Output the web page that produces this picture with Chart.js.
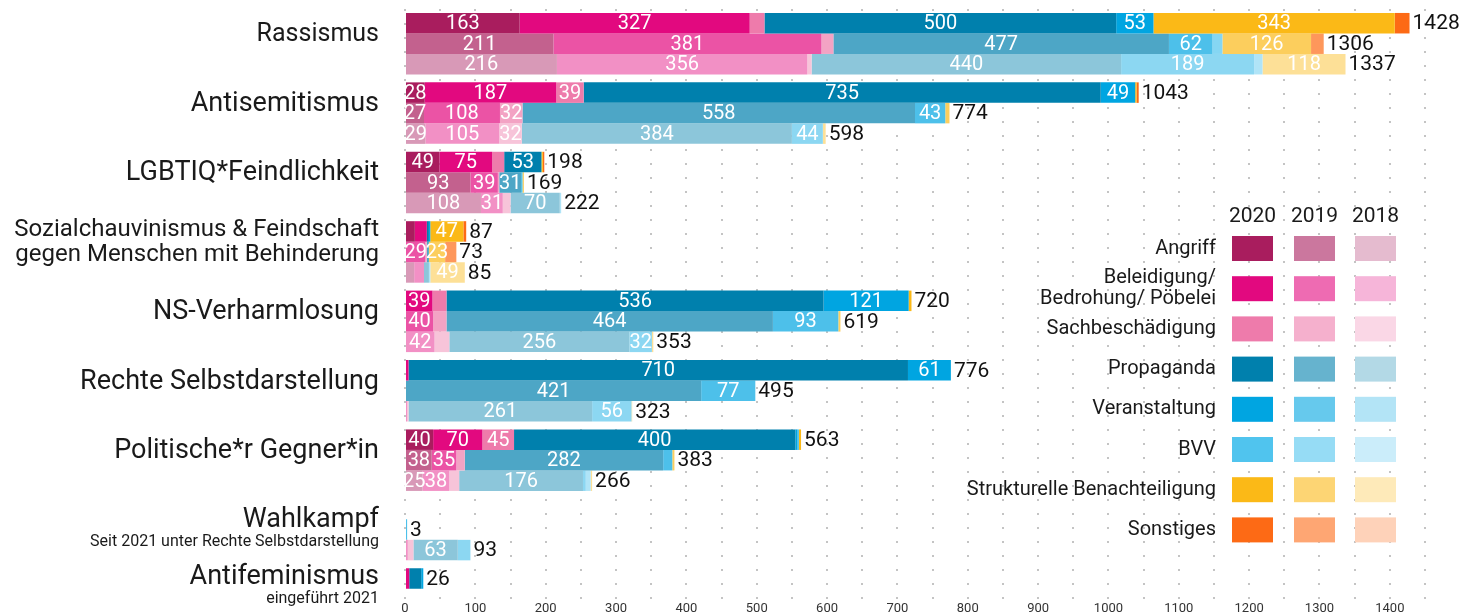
<!DOCTYPE html>
<html lang="de">
<head>
    <meta charset="UTF-8">
    <title>Vorfälle nach Motiv und Art</title>
    <script src="https://cdn.jsdelivr.net/npm/chart.js"></script>
    <style>
        html, body { margin: 0; padding: 0; background: #fff; overflow: hidden; }
        #wrap { width: 1459px; height: 615px; }
    </style>
</head>
<body>
    <div id="wrap"><canvas id="chart" width="1459" height="615"></canvas></div>

    <script>
        const FONT = "Roboto, 'Noto Sans', sans-serif";

        // Categories (y axis), top to bottom
        const categories = [
            'Rassismus',
            'Antisemitismus',
            'LGBTIQ*Feindlichkeit',
            ['Sozialchauvinismus & Feindschaft', 'gegen Menschen mit Behinderung'],
            'NS-Verharmlosung',
            'Rechte Selbstdarstellung',
            'Politische*r Gegner*in',
            'Wahlkampf',
            ['Antifeminismus', '']
        ];
        const subtitles = ['', '', '', '', '', '', '', 'Seit 2021 unter Rechte Selbstdarstellung', 'eingeführt 2021'];
        const categoryFontSizes = [25, 27, 27, 24, 27, 27, 27, 27, 27];

        const typeNames = [
            ['Angriff'],
            ['Beleidigung/', 'Bedrohung/ Pöbelei'],
            ['Sachbeschädigung'],
            ['Propaganda'],
            ['Veranstaltung'],
            ['BVV'],
            ['Strukturelle Benachteiligung'],
            ['Sonstiges']
        ];
        const years = ['2020', '2019', '2018'];

        // 2020
        const angriff2020      = [163,  28,  49, 14,   0,   0,  40, 0,  0];
        const beleidigung2020  = [327, 187,  75, 17,  39,   5,  70, 0,  6];
        const sachbesch2020    = [ 21,  39,  17,  0,  20,   0,  45, 0,  0];
        const propaganda2020   = [500, 735,  53,  3, 536, 710, 400, 0, 17];
        const veranstaltung2020= [ 53,  49,   0,  2, 121,  61,   3, 0,  3];
        const bvv2020          = [  0,   0,   0,  0,   0,   0,   2, 0,  0];
        const strukturell2020  = [343,   2,   2, 47,   4,   0,   3, 0,  0];
        const sonstiges2020    = [ 21,   3,   2,  4,   0,   0,   0, 0,  0];
        const totals2020       = [1428, 1043, 198, 87, 720, 776, 563, 0, 26];

        // 2019
        const angriff2019      = [211,  27,  93,  0,   0,   0,  38, 0, 0];
        const beleidigung2019  = [381, 108,  39, 29,  40,   0,  35, 0, 0];
        const sachbesch2019    = [ 17,  32,   2,  2,  19,   0,  12, 0, 0];
        const propaganda2019   = [477, 558,  31,  3, 464, 421, 282, 0, 0];
        const veranstaltung2019= [ 62,  43,   2,  0,  93,  77,  13, 3, 0];
        const bvv2019          = [ 14,   0,   0,  0,   0,   0,   0, 0, 0];
        const strukturell2019  = [126,   6,   2, 23,   3,   0,   3, 0, 0];
        const sonstiges2019    = [ 18,   0,   0, 16,   0,   0,   0, 0, 0];
        const totals2019       = [1306, 774, 169, 73, 619, 495, 383, 3, 0];

        // 2018
        const angriff2018      = [216,  29, 108, 13,   0,   0,  25,  0, 0];
        const beleidigung2018  = [356, 105,  31, 14,  42,   3,  38,  4, 0];
        const sachbesch2018    = [  6,  32,  11,  0,  21,   2,  14,  8, 0];
        const propaganda2018   = [440, 384,  70,  7, 256, 261, 176, 63, 0];
        const veranstaltung2018= [189,  44,   0,  0,  32,  56,   4, 18, 0];
        const bvv2018          = [ 12,   0,   2,  2,   0,   0,   7,  0, 0];
        const strukturell2018  = [118,   4,   0, 49,   2,   1,   2,  0, 0];
        const sonstiges2018    = [  0,   0,   0,  0,   0,   0,   0,  0, 0];
        const totals2018       = [1337, 598, 222, 85, 353, 323, 266, 93, 0];

        const values = [
            [angriff2020, beleidigung2020, sachbesch2020, propaganda2020, veranstaltung2020, bvv2020, strukturell2020, sonstiges2020],
            [angriff2019, beleidigung2019, sachbesch2019, propaganda2019, veranstaltung2019, bvv2019, strukturell2019, sonstiges2019],
            [angriff2018, beleidigung2018, sachbesch2018, propaganda2018, veranstaltung2018, bvv2018, strukturell2018, sonstiges2018]
        ];
        const totals = [totals2020, totals2019, totals2018];

        // colours: 2020 full, older years lighter
        const baseColors = ['#a91d5e', '#e2097f', '#ee7bab', '#0080ad', '#00a5e1', '#50c4ee', '#fbb917', '#fd6a15'];
        const barAlpha = [1, 0.7, 0.45];
        const legendAlpha = [1, 0.6, 0.3];

        function tint(hex, a) {
            const n = parseInt(hex.slice(1), 16);
            const mix = c => Math.round(255 - a * (255 - c));
            return `rgb(${mix(n >> 16)}, ${mix((n >> 8) & 255)}, ${mix(n & 255)})`;
        }

        const datasets = [];
        years.forEach((year, yi) => {
            typeNames.forEach((name, ti) => {
                datasets.push({
                    label: name.join(' ') + ' ' + year,
                    stack: year,
                    data: values[yi][ti].map((v, ci) => ({ x: v, y: ci })),
                    backgroundColor: tint(baseColors[ti], barAlpha[yi]),
                    borderWidth: 0,
                    categoryPercentage: 0.886,
                    barPercentage: 1
                });
            });
        });

        // numbers inside the segments + totals behind each bar
        const valueLabels = {
            id: 'valueLabels',
            afterDatasetsDraw(chart) {
                const ctx = chart.ctx;
                const area = chart.chartArea;
                ctx.save();
                ctx.textBaseline = 'middle';
                ctx.font = `20px ${FONT}`;
                ctx.fillStyle = '#fff';
                ctx.textAlign = 'center';
                chart.data.datasets.forEach((ds, di) => {
                    chart.getDatasetMeta(di).data.forEach((bar, i) => {
                        const v = ds.data[i].x;
                        if (v < 23 || bar.y > area.bottom) return;
                        ctx.fillText(v, (bar.x + bar.base) / 2, bar.y + 1);
                    });
                });

                ctx.font = `21px ${FONT}`;
                ctx.fillStyle = '#111';
                ctx.textAlign = 'left';
                years.forEach((year, yi) => {
                    categories.forEach((c, ci) => {
                        const t = totals[yi][ci];
                        if (!t) return;
                        let end = -Infinity, y = 0;
                        typeNames.forEach((n, ti) => {
                            const bar = chart.getDatasetMeta(yi * typeNames.length + ti).data[ci];
                            end = Math.max(end, bar.x);
                            y = bar.y;
                        });
                        if (y > area.bottom) return;
                        ctx.fillText(t, end + 3, y + 1);
                    });
                });
                ctx.restore();
            }
        };

        // small second lines under some category names
        const subtitleLines = {
            id: 'subtitleLines',
            afterDraw(chart) {
                const scale = chart.scales.y;
                const ctx = chart.ctx;
                ctx.save();
                ctx.font = `16px ${FONT}`;
                ctx.fillStyle = '#1a1a1a';
                ctx.textAlign = 'right';
                ctx.textBaseline = 'middle';
                subtitles.forEach((s, i) => {
                    if (!s) return;
                    const lines = Array.isArray(categories[i]) ? categories[i].length : 1;
                    const first = scale.getPixelForValue(i) + scale.options.ticks.labelOffset - (lines - 1) * 25 / 2;
                    ctx.fillText(s, 379, first + 21);
                });
                ctx.restore();
            }
        };

        // year x type colour matrix
        const legendLayout = { textRight: 1216, colX: [1232, 1294, 1355], top: 236, step: 40.2, w: 41, h: 25, headerY: 217 };
        const matrixLegend = {
            id: 'matrixLegend',
            afterDraw(chart) {
                const L = legendLayout;
                const ctx = chart.ctx;
                ctx.save();
                ctx.textBaseline = 'middle';
                ctx.fillStyle = '#1a1a1a';
                ctx.font = `21px ${FONT}`;
                ctx.textAlign = 'center';
                years.forEach((year, yi) => ctx.fillText(year, L.colX[yi] + L.w / 2, L.headerY));

                typeNames.forEach((lines, ti) => {
                    const y = L.top + ti * L.step;
                    years.forEach((year, yi) => {
                        ctx.fillStyle = tint(baseColors[ti], legendAlpha[yi]);
                        ctx.fillRect(L.colX[yi], y, L.w, L.h);
                    });
                    ctx.fillStyle = '#1a1a1a';
                    ctx.font = `20px ${FONT}`;
                    ctx.textAlign = 'right';
                    const mid = y + L.h / 2;
                    lines.forEach((line, li) => {
                        ctx.fillText(line, L.textRight, mid + (li - (lines.length - 1) / 2) * 21);
                    });
                });
                ctx.restore();
            }
        };

        new Chart(document.getElementById('chart'), {
            type: 'bar',
            data: { datasets },
            options: {
                indexAxis: 'y',
                responsive: false,
                animation: false,
                devicePixelRatio: 1,
                layout: { padding: { top: 9, right: 34, left: 0, bottom: 0 } },
                plugins: {
                    legend: { display: false },
                    tooltip: { enabled: false }
                },
                scales: {
                    x: {
                        type: 'linear',
                        stacked: true,
                        min: 0,
                        max: 1450,
                        afterFit: s => { s.height = 16; s.paddingLeft = 0; s.paddingRight = 0; },
                        ticks: {
                            stepSize: 50,
                            autoSkip: false,
                            maxRotation: 0,
                            padding: 2,
                            color: '#333',
                            font: { family: FONT, size: 13 },
                            callback: v => (v % 100 === 0 && v <= 1400 ? v : '')
                        },
                        grid: { color: '#c4c4c4', lineWidth: 2, drawTicks: false },
                        border: { display: false, dash: [2, 12] }
                    },
                    y: {
                        type: 'linear',
                        reverse: true,
                        offset: false,
                        min: -0.5,
                        max: 8,
                        afterBuildTicks: s => { s.ticks = categories.map((c, i) => ({ value: i })); },
                        afterFit: s => { s.width = 405; s.paddingTop = 0; s.paddingBottom = 0; },
                        ticks: {
                            autoSkip: false,
                            padding: 26,
                            labelOffset: -9,
                            color: '#1a1a1a',
                            font: ctx => ({ family: FONT, size: categoryFontSizes[ctx.index], lineHeight: '25px' }),
                            callback: v => categories[v]
                        },
                        grid: { display: false, drawTicks: false },
                        border: { display: false }
                    }
                }
            },
            plugins: [valueLabels, subtitleLines, matrixLegend]
        });
    </script>
</body>
</html>
